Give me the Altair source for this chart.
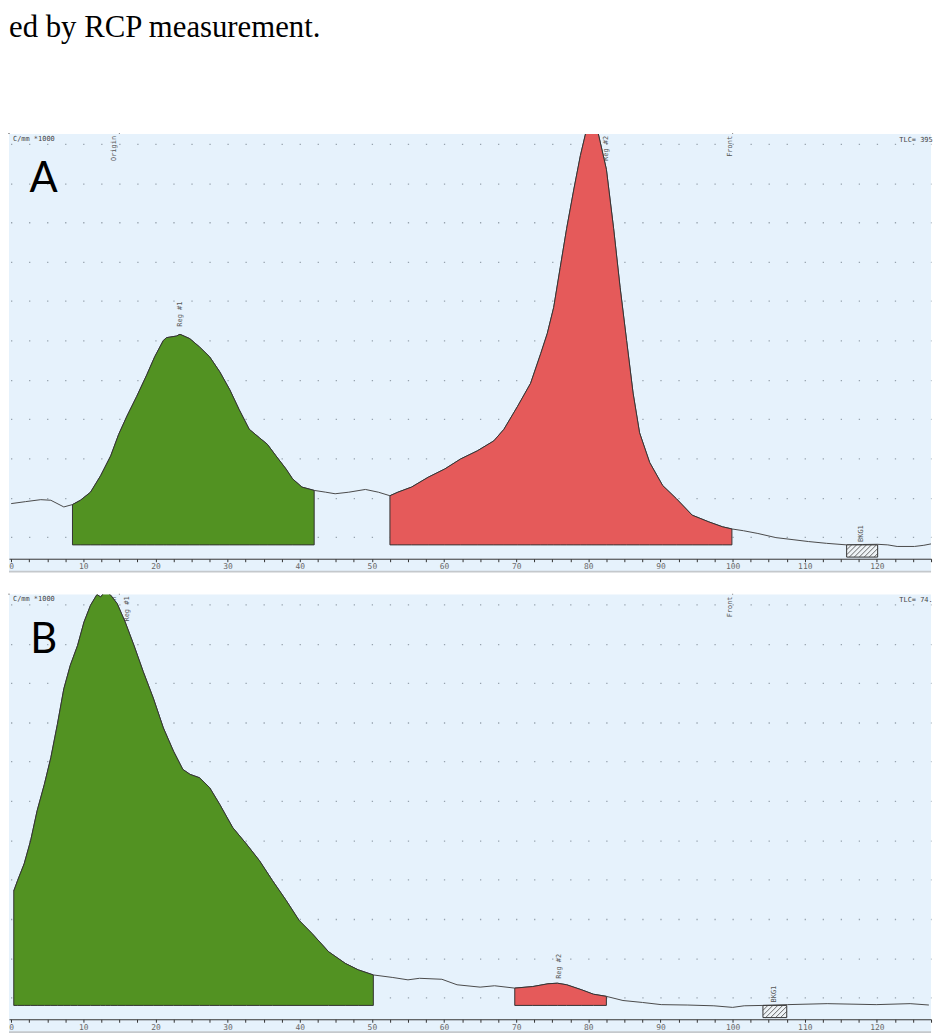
import altair as alt
import pandas as pd

# ---------------- data ----------------
# Panel A : distance (mm) and counts (C/mm *1000, arbitrary units above region baseline)
A_X = [0.0, 2.0, 4.1, 5.5, 7.3, 8.5, 9.6, 11.0, 12.4, 13.8, 14.9, 16.05, 17.4, 18.8, 19.9,
       21.1, 21.55, 22.9, 23.4, 24.75, 26.1, 27.5, 28.9, 30.3, 31.6, 33.0, 34.4, 35.5, 36.7,
       38.1, 39.0, 40.3, 42.0, 43.6, 44.9, 46.8, 49.1, 50.9, 52.5, 53.6, 55.5, 57.8, 60.1,
       62.3, 64.6, 66.9, 68.3, 70.2, 72.0, 73.4, 74.3, 75.2, 76.1, 77.0, 78.0, 78.9, 79.8,
       80.5, 81.2, 82.5, 83.5, 84.4, 85.3, 86.2, 87.1, 88.5, 90.3, 92.2, 94.4, 96.7, 98.6,
       99.9, 101.5, 103.5, 106.0, 108.5, 110.5, 113.0, 115.8, 118.0, 120.1, 121.5, 122.8,
       125.2, 126.5, 127.5]
A_Y = [2.1, 2.2, 2.3, 2.27, 1.93, 2.05, 2.27, 2.68, 3.52, 4.53, 5.62, 6.55, 7.55, 8.65, 9.57,
       10.4, 10.54, 10.62, 10.71, 10.49, 10.07, 9.57, 8.81, 7.89, 6.88, 5.88, 5.45, 5.12, 4.53,
       3.86, 3.36, 2.94, 2.77, 2.68, 2.6, 2.68, 2.82, 2.68, 2.5, 2.68, 2.94, 3.44, 3.86,
       4.37, 4.78, 5.29, 5.88, 7.05, 8.22, 9.73, 10.74, 12.08, 14.1, 16.1, 18.1, 19.8, 21.2,
       21.8, 21.2, 19.1, 16.1, 13.1, 10.4, 7.72, 5.7, 4.19, 3.02, 2.35, 1.51, 1.17, 0.92,
       0.81, 0.72, 0.58, 0.37, 0.26, 0.17, 0.08, 0.0, 0.02, 0.03, 0.0, -0.08,
       -0.08, -0.02, 0.05]
A_REGIONS = [("Reg #1", 8.5, 42.0), ("Reg #2", 52.5, 99.9)]
A_BKG = (115.8, 120.1)
A_TLC = "TLC= 395"

# Panel B
B_X = [0.36, 0.9, 1.8, 2.7, 3.6, 4.6, 5.5, 6.4, 7.3, 8.2, 9.2, 10.1, 11.0, 11.9, 12.4, 13.1,
       13.8, 14.7, 15.8, 17.0, 18.3, 19.7, 21.1, 22.5, 23.8, 24.8, 26.1, 27.5, 28.9, 30.7,
       32.6, 34.4, 36.2, 38.1, 39.9, 41.7, 44.0, 46.3, 48.1, 50.2, 52.9, 55.0, 56.6, 59.7,
       61.8, 65.0, 67.0, 69.8, 72.3, 74.4, 75.7, 77.0, 79.1, 80.7, 82.5, 84.8, 87.5, 90.1,
       93.7, 97.4, 100.0, 101.6, 104.2, 107.6, 113.1, 119.9, 124.6, 127.2]
B_Y = [5.82, 6.36, 7.2, 8.38, 9.9, 11.24, 12.6, 14.28, 16.1, 17.3, 18.3, 19.5, 20.35, 20.9, 20.77, 21.1,
       20.86, 20.43, 19.5, 18.33, 16.98, 15.63, 14.11, 12.93, 12.0, 11.75, 11.58, 11.08, 10.23, 9.05,
       8.21, 7.37, 6.36, 5.35, 4.33, 3.66, 2.73, 2.14, 1.81, 1.55, 1.42, 1.3, 1.38, 1.33,
       1.05, 0.93, 1.0, 0.88, 0.96, 1.1, 1.13, 1.05, 0.79, 0.57, 0.46, 0.25, 0.15, 0.04,
       0.02, -0.02, -0.1, -0.02, 0.0, 0.04, 0.09, 0.04, 0.09, 0.02]
B_REGIONS = [("Reg #1", 0.36, 50.2), ("Reg #2", 69.8, 82.5)]
B_BKG = (104.2, 107.5)
B_TLC = "TLC=  74."

ORIGIN_MM = 15
FRONT_MM = 100
X_TICKS = [i * 2.5 for i in range(52)]

# ---------------- styling ----------------
W, H = 929, 441
XMIN, XMAX = -0.3, 127.5
YMIN, YMAX = -1.36, 20.9
KX = W / (XMAX - XMIN)
KY = H / (YMAX - YMIN)
BKG_DEPTH = -0.62
LINE_BOTTOM = -0.6
AXIS_V = -0.7
REG_COLORS = ["#529222", "#e55a5a"]
BG = "#e6f2fc"
MONO = "DejaVu Sans Mono"

period = 2.5 * KX
dash_off = period - (0 - XMIN) * KX + 0.65

xs = alt.Scale(domain=[XMIN, XMAX], nice=False, zero=False)
ys = alt.Scale(domain=[YMIN, YMAX], nice=False, zero=False)
x_axis = alt.Axis(values=X_TICKS, grid=False, title=None, offset=-round((AXIS_V - YMIN) * KY),
                  labelExpr="datum.value % 10 === 0 ? format(datum.value, 'd') : ''",
                  labelFont=MONO, labelFontSize=8, labelColor="#666", labelPadding=1,
                  labelOverlap=False, labelFlush=False,
                  tickSize=3, tickColor="#333", domainColor="#333", domainWidth=1)
y_axis = alt.Axis(values=[0.4 + k for k in range(21)], grid=True, labels=False, ticks=False,
                  domain=False, title=None, gridColor="#97a3ae", gridWidth=1.3,
                  gridDash=[1.3, period - 1.3], gridDashOffset=dash_off)


def X(field):
    return alt.X(field, scale=xs, axis=x_axis)


def Y(field):
    return alt.Y(field, scale=ys, axis=y_axis)


def hatch(x0, x1):
    w = (x1 - x0) * KX
    h = -BKG_DEPTH * KY
    rows = []
    c = -h
    while c < w:
        sx, sy = c, 0.0
        ex, ey = c + h, h
        if sx < 0:
            sy, sx = -sx, 0.0
        if ex > w:
            ey, ex = h - (ex - w), w
        rows.append({"hx0": x0 + sx / KX, "hx1": x0 + ex / KX,
                     "hv0": BKG_DEPTH + sy / KY, "hv1": BKG_DEPTH + ey / KY})
        c += 5
    return pd.DataFrame(rows)


def panel(tx, ty, regions, bkg, letter, tlc, top_labels, point_labels):
    trace = pd.DataFrame({"x": tx, "v": ty})
    one = pd.DataFrame({"letter": [letter], "tlc": [tlc], "unit": ["C/mm *1000"]})
    layers = []
    # left frame
    layers.append(alt.Chart(one).mark_rule(color="#333", strokeWidth=1.2).encode(
        x=alt.value(0), y=alt.value(0), y2=alt.datum(AXIS_V)))
    # origin / front lines
    marks = pd.DataFrame({"x": [ORIGIN_MM, FRONT_MM]})
    layers.append(alt.Chart(marks).mark_rule(color="#333", strokeWidth=1).encode(
        x=X("x:Q"), y=alt.value(0), y2=alt.datum(LINE_BOTTOM)))
    # top-anchored vertical labels (Origin, Front, ...)
    tl = pd.DataFrame(top_labels, columns=["x", "label"])
    layers.append(alt.Chart(tl).mark_text(angle=270, align="right", baseline="middle",
                                          font=MONO, fontSize=7, color="#555").encode(
        x=X("x:Q"), y=alt.value(2), text="label:N"))
    # trace
    layers.append(alt.Chart(trace).mark_line(color="#4a4a4a", strokeWidth=1, clip=True).encode(
        x=X("x:Q"), y=Y("v:Q")))
    # regions
    for (name, s, e), col in zip(regions, REG_COLORS):
        layers.append(alt.Chart(trace).transform_filter(
            f"datum.x >= {s} && datum.x <= {e}").mark_area(
            color=col, stroke="#333", strokeWidth=1, clip=True, opacity=1).encode(
            x=X("x:Q"), y=Y("v:Q"), y2=alt.datum(0)))
    # background box with hatching
    bk = pd.DataFrame({"x": [bkg[0]], "x2": [bkg[1]]})
    layers.append(alt.Chart(bk).mark_rect(fill="#eef3f6", stroke="#333", strokeWidth=1).encode(
        x=X("x:Q"), x2="x2:Q", y=alt.datum(0), y2=alt.datum(BKG_DEPTH)))
    layers.append(alt.Chart(hatch(*bkg)).mark_rule(color="#444", strokeWidth=0.8).encode(
        x=X("hx0:Q"), x2="hx1:Q", y=Y("hv0:Q"), y2="hv1:Q"))
    # point-anchored vertical labels
    pl = pd.DataFrame(point_labels, columns=["x", "v", "label"])
    layers.append(alt.Chart(pl).mark_text(angle=270, align="left", baseline="middle",
                                          font=MONO, fontSize=7, color="#555").encode(
        x=X("x:Q"), y=Y("v:Q"), text="label:N"))
    # corner texts
    layers.append(alt.Chart(one).mark_text(align="left", baseline="middle", font=MONO,
                                           fontSize=7, color="#444").encode(
        x=alt.value(4), y=alt.value(5), text="unit:N"))
    layers.append(alt.Chart(one).mark_text(align="left", baseline="middle", font=MONO,
                                           fontSize=7, color="#444").encode(
        x=alt.value(897), y=alt.value(6), text="tlc:N"))
    layers.append(alt.Chart(one).mark_text(align="center", baseline="alphabetic", font="Lato",
                                           fontSize=42, color="#000").encode(
        x=alt.value(35), y=alt.value(59), text="letter:N"))
    # lower edge of the panel
    layers.append(alt.Chart(one).mark_rule(color="#c4c8cc", strokeWidth=2).encode(
        x=alt.value(0), x2=alt.value(W), y=alt.value(H)))
    return alt.layer(*layers).properties(width=W, height=H)


panel_a = panel(A_X, A_Y, A_REGIONS, A_BKG, "A", A_TLC,
                top_labels=[(14.2, "Origin"), (99.6, "Front"), (82.5, "Reg #2")],
                point_labels=[(23.4, 11.1, "Reg #1"), (117.8, 0.15, "BKG1")])
panel_b = panel(B_X, B_Y, B_REGIONS, B_BKG, "B", B_TLC,
                top_labels=[(14.2, "Origin"), (99.6, "Front"), (16.1, "Reg #1")],
                point_labels=[(76.0, 1.35, "Reg #2"), (105.8, 0.15, "BKG1")])

chart = alt.vconcat(panel_a, panel_b, spacing=20).properties(
    padding=0,
    background="white",
    title=alt.TitleParams(text="ed by RCP measurement.", font="Liberation Serif", fontSize=31,
                          fontWeight="normal", color="#000", anchor="start", frame="group",
                          offset=89),
).configure_view(fill=BG, stroke=None)

chart.save("out.html", embed_options={"renderer": "svg", "actions": False})
